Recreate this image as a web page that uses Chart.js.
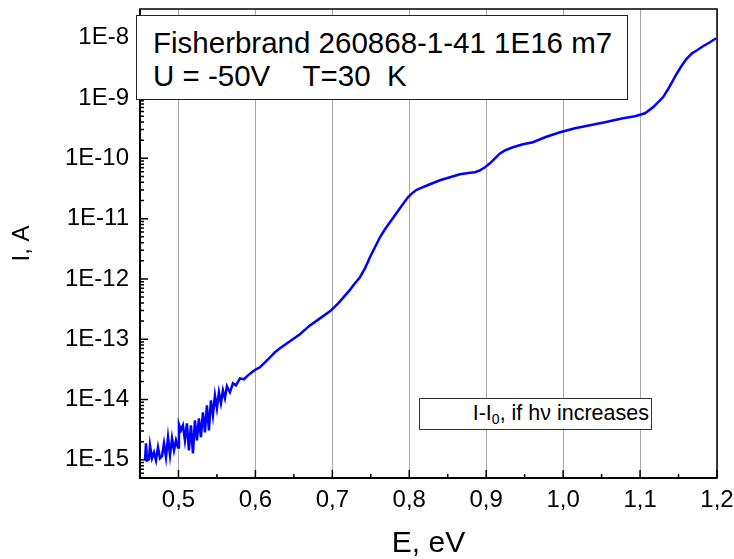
<!DOCTYPE html>
<html lang="en">
<head>
<meta charset="UTF-8">
<title>Photocurrent I(E)</title>
<script src="https://cdn.jsdelivr.net/npm/chart.js@4.4.0/dist/chart.umd.min.js"></script>
<style>
    html, body { margin: 0; padding: 0; background: #fff; }
    .wrap { position: relative; width: 734px; height: 559px; font-family: "Liberation Sans", Arial, sans-serif; }
    .note {
        position: absolute; left: 136px; top: 15px; width: 492px; height: 85px;
        border: 1px solid #222; background: #fff; box-sizing: border-box;
        font-size: 29.5px; line-height: 33px; padding: 10px 0 0 16px; white-space: pre; color: #000;
    }
    .legend {
        position: absolute; left: 419px; top: 398px; width: 233px; height: 32px;
        border: 1px solid #333; background: #fff; box-sizing: border-box;
        font-size: 21.5px; line-height: 28px; text-align: right; padding-right: 2px; white-space: pre; color: #000;
    }
    .legend sub { font-size: 14px; vertical-align: -4px; line-height: 0; }
</style>
</head>
<body>
<div class="wrap">
    <canvas id="myChart" width="734" height="559"></canvas>
    <div class="note">Fisherbrand 260868-1-41 1E16 m7
U = -50V    T=30  K</div>
    <div class="legend">I-I<sub>0</sub>, if h&nu; increases</div>
</div>
<script>
// photon energy, eV
var energy = [
    0.4565, 0.4578, 0.4591, 0.4617, 0.4630, 0.4656, 0.4682, 0.4708, 0.4734, 0.4760,
    0.4786, 0.4812, 0.4838, 0.4864, 0.4890, 0.4916, 0.4942, 0.4968, 0.4994, 0.5006,
    0.5032, 0.5058, 0.5084, 0.5110, 0.5136, 0.5162, 0.5188, 0.5214, 0.5240, 0.5266,
    0.5292, 0.5318, 0.5344, 0.5370, 0.5396, 0.5422, 0.5448, 0.5474, 0.5500, 0.5526,
    0.5552, 0.5578, 0.5604, 0.5630, 0.5669, 0.5708, 0.5747, 0.5799, 0.5851, 0.5903,
    0.5955, 0.6007, 0.6059, 0.6124, 0.6189, 0.6254, 0.6319, 0.6449, 0.6579, 0.6709,
    0.6839, 0.6969, 0.7073, 0.7164, 0.7229, 0.7294, 0.7359, 0.7424, 0.7489, 0.7554,
    0.7619, 0.7684, 0.7749, 0.7814, 0.7879, 0.7944, 0.7983, 0.8035, 0.8087, 0.8139,
    0.8269, 0.8399, 0.8529, 0.8659, 0.8789, 0.8854, 0.8919, 0.8984, 0.9049, 0.9114,
    0.9179, 0.9244, 0.9348, 0.9478, 0.9608, 0.9764, 0.9959, 1.0154, 1.0349, 1.0544,
    1.0778, 1.0934, 1.1064, 1.1168, 1.1233, 1.1298, 1.1363, 1.1428, 1.1480, 1.1545,
    1.1610, 1.1675, 1.1740, 1.1818, 1.1909, 1.1987
];
// current I-I0, A
var current = [
    9.8e-16, 1.88e-15, 9.8e-16, 1.02e-15, 1.74e-15, 1.06e-15, 1.33e-15, 9.8e-16, 1.61e-15, 1.06e-15,
    1.15e-15, 1.88e-15, 1.1e-15, 2.37e-15, 1.19e-15, 2.28e-15, 1.44e-15, 2.11e-15, 1.61e-15, 3.88e-15,
    3.09e-15, 3.74e-15, 2.11e-15, 4.03e-15, 1.44e-15, 3.74e-15, 1.28e-15, 4.53e-15, 2.11e-15, 4.89e-15,
    2.37e-15, 6.14e-15, 2.86e-15, 8.02e-15, 3.09e-15, 9.7e-15, 5.48e-15, 1.17e-14, 7.16e-15, 1.32e-14,
    8.67e-15, 1.42e-14, 1.05e-14, 1.66e-14, 1.32e-14, 1.86e-14, 1.72e-14, 2.25e-14, 2.17e-14, 2.52e-14,
    2.83e-14, 3.18e-14, 3.43e-14, 4.15e-14, 5.02e-14, 6.08e-14, 7.08e-14, 9.25e-14, 1.21e-13, 1.70e-13,
    2.22e-13, 2.91e-13, 3.9e-13, 5.3e-13, 6.6e-13, 8.47e-13, 1.07e-12, 1.50e-12, 2.29e-12, 3.35e-12,
    4.91e-12, 6.67e-12, 8.71e-12, 1.14e-11, 1.49e-11, 1.94e-11, 2.26e-11, 2.63e-11, 2.96e-11, 3.19e-11,
    3.72e-11, 4.33e-11, 4.85e-11, 5.44e-11, 5.77e-11, 5.88e-11, 6.34e-11, 7.11e-11, 8.28e-11, 1.0e-10,
    1.21e-10, 1.36e-10, 1.53e-10, 1.71e-10, 1.85e-10, 2.24e-10, 2.71e-10, 3.16e-10, 3.54e-10, 3.97e-10,
    4.62e-10, 4.99e-10, 5.60e-10, 7.03e-10, 8.51e-10, 1.03e-9, 1.40e-9, 1.97e-9, 2.58e-9, 3.50e-9,
    4.57e-9, 5.53e-9, 6.21e-9, 7.23e-9, 8.42e-9, 9.8e-9
];
var xTicks = [0.5, 0.6, 0.7, 0.8, 0.9, 1.0, 1.1, 1.2];
var xMinorTicks = [0.55, 0.65, 0.75, 0.85, 0.95, 1.05, 1.15];
var yTicks = [1e-15, 1e-14, 1e-13, 1e-12, 1e-11, 1e-10, 1e-9, 1e-8];

var points = energy.map(function(e, i) { return { x: e, y: current[i] }; });

// inner tick marks and plot frame
var frame = {
    id: 'frame',
    afterDatasetsDraw: function(chart) {
        var ctx = chart.ctx, a = chart.chartArea;
        var xs = chart.scales.x, ys = chart.scales.y;
        ctx.save();
        ctx.strokeStyle = '#000';
        ctx.lineWidth = 1.5;
        ctx.beginPath();
        xTicks.forEach(function(v) {
            var px = xs.getPixelForValue(v);
            ctx.moveTo(px, a.bottom); ctx.lineTo(px, a.bottom - 8);
        });
        xMinorTicks.forEach(function(v) {
            var px = xs.getPixelForValue(v);
            ctx.moveTo(px, a.bottom); ctx.lineTo(px, a.bottom - 4);
        });
        for (var n = -16; n <= -8; n++) {
            for (var k = 1; k <= 9; k++) {
                var v = k * Math.pow(10, n);
                if (v < ys.min || v > ys.max) continue;
                var py = ys.getPixelForValue(v);
                ctx.moveTo(a.left, py); ctx.lineTo(a.left + (k === 1 ? 8 : 4), py);
            }
        }
        ctx.stroke();
        ctx.lineWidth = 1.5;
        ctx.strokeRect(a.left, a.top, a.right - a.left, a.bottom - a.top);
        ctx.lineWidth = 2;
        ctx.beginPath();
        ctx.moveTo(a.left, a.top); ctx.lineTo(a.left, a.bottom); ctx.lineTo(a.right, a.bottom);
        ctx.stroke();
        ctx.restore();
    }
};

var ctx = document.getElementById('myChart').getContext('2d');
var chart = new Chart(ctx, {
    type: 'line',
    data: {
        datasets: [{
            label: 'I-I0, if hv increases',
            data: points,
            borderColor: '#0000ff',
            borderWidth: 2.5,
            pointRadius: 0,
            tension: 0,
            fill: false
        }]
    },
    options: {
        responsive: false,
        animation: false,
        layout: { padding: { top: 9, right: 17, left: 0, bottom: 0 } },
        plugins: { legend: { display: false }, tooltip: { enabled: false } },
        scales: {
            x: {
                type: 'linear',
                min: 0.45,
                max: 1.2,
                afterBuildTicks: function(scale) {
                    scale.ticks = xTicks.map(function(v) { return { value: v }; });
                },
                afterFit: function(scale) {
                    scale.height = 81;
                    scale.paddingLeft = 0; scale.paddingRight = 0;
                },
                grid: { color: '#a8a8a8', lineWidth: 1, drawTicks: false },
                border: { display: false },
                ticks: {
                    autoSkip: false, maxRotation: 0, padding: 8, color: '#000',
                    font: { family: 'Liberation Sans', size: 24 },
                    callback: function(v) { return v.toFixed(1).replace('.', ','); }
                },
                title: {
                    display: true, text: 'E, eV', color: '#000',
                    font: { family: 'Liberation Sans', size: 30, lineHeight: 1 },
                    padding: { top: 0, bottom: 0 }
                }
            },
            y: {
                type: 'logarithmic',
                min: 5e-16,
                max: 3e-8,
                bounds: 'data',
                afterBuildTicks: function(scale) {
                    scale.ticks = yTicks.map(function(v) { return { value: v }; });
                },
                afterFit: function(scale) {
                    scale.width = 140;
                    scale.paddingTop = 0; scale.paddingBottom = 0;
                },
                grid: { display: false, drawTicks: false },
                border: { display: false },
                ticks: {
                    autoSkip: false, padding: 11, color: '#000',
                    font: { family: 'Liberation Sans', size: 24 },
                    callback: function(v) { return '1E' + Math.round(Math.log10(v)); }
                },
                title: {
                    display: true, text: 'I, A', color: '#000',
                    font: { family: 'Liberation Sans', size: 24, lineHeight: 1.2 },
                    padding: { top: 8, bottom: 0 }
                }
            }
        }
    },
    plugins: [frame]
});
</script>
</body>
</html>
